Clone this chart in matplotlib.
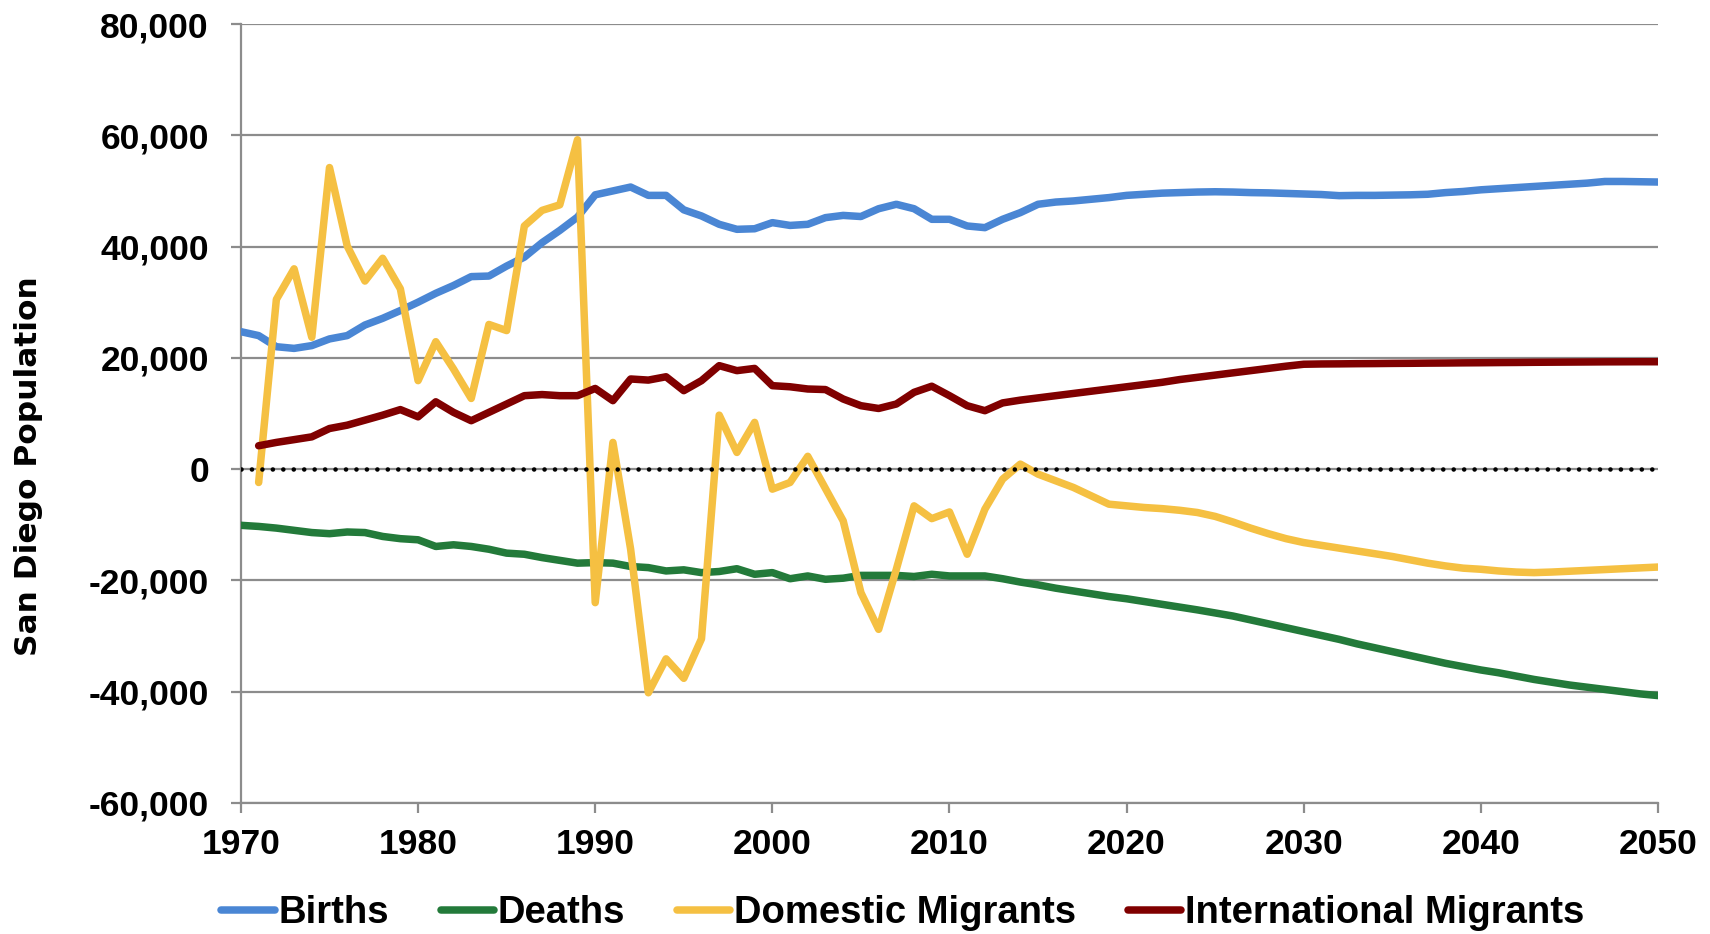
import matplotlib
matplotlib.use("Agg")
import matplotlib.pyplot as plt
from matplotlib.ticker import FuncFormatter, MultipleLocator

# yearly components of population change, San Diego region
years = list(range(1970, 2051))
years_mig = list(range(1971, 2051))

births = [
    24700, 24000, 22000, 21700, 22200, 23400, 24000, 25900, 27100, 28500,
    30000, 31600, 33000, 34600, 34700, 36500, 38100, 40700, 42900, 45300,
    49300, 50000, 50700, 49200, 49200, 46600, 45500, 44000, 43100, 43200,
    44300, 43800, 44000, 45200, 45600, 45400, 46800, 47600, 46800, 44900,
    44900, 43700, 43400, 44900, 46100, 47600, 48000, 48200, 48500, 48800,
    49200, 49400, 49600, 49700, 49800, 49850, 49800, 49700, 49650, 49550,
    49450, 49350, 49150, 49200, 49200, 49250, 49300, 49400, 49700, 49900,
    50200, 50400, 50600, 50800, 51000, 51200, 51400, 51700, 51700, 51650,
    51600,
]

deaths = [
    -10100, -10300, -10600, -11000, -11400, -11600, -11300, -11400, -12100, -12500,
    -12700, -13900, -13600, -13900, -14400, -15100, -15300, -15900, -16400, -16900,
    -16800, -16900, -17500, -17700, -18300, -18100, -18600, -18400, -17900, -18900,
    -18600, -19700, -19200, -19800, -19600, -19100, -19100, -19100, -19300, -18900,
    -19200, -19200, -19200, -19700, -20300, -20800, -21400, -21900, -22400, -22900,
    -23300, -23800, -24300, -24800, -25300, -25850, -26400, -27100, -27800, -28500,
    -29200, -29900, -30600, -31400, -32100, -32800, -33500, -34200, -34900, -35500,
    -36100, -36600, -37200, -37800, -38300, -38800, -39200, -39600, -40000, -40400,
    -40700,
]

domestic = [
    -2400, 30500, 36000, 23700, 54200, 40100, 33800, 37900, 32400,
    15900, 22900, 18000, 12700, 26000, 24900, 43700, 46500, 47500, 59200,
    -24000, 4800, -14400, -40200, -34100, -37600, -30500, 9700, 3000, 8400,
    -3600, -2400, 2300, -3500, -9300, -22200, -28800, -18000, -6600, -8900,
    -7700, -15300, -7200, -1800, 900, -900, -2100, -3300, -4800, -6300,
    -6600, -6900, -7100, -7400, -7800, -8500, -9500, -10600, -11600, -12500,
    -13200, -13700, -14200, -14700, -15200, -15700, -16300, -16900, -17400, -17800,
    -18000, -18300, -18500, -18600, -18500, -18350, -18200, -18050, -17900, -17750,
    -17600,
]

international = [
    4200, 4800, 5300, 5800, 7300, 7900, 8800, 9700, 10700,
    9400, 12100, 10200, 8700, 10200, 11700, 13200, 13400, 13200, 13200,
    14500, 12300, 16200, 16000, 16600, 14100, 15900, 18600, 17700, 18100,
    15000, 14800, 14400, 14300, 12600, 11400, 10900, 11700, 13800, 14900,
    13200, 11400, 10500, 11900, 12400, 12800, 13200, 13600, 14000, 14400,
    14800, 15200, 15600, 16100, 16500, 16900, 17300, 17700, 18100, 18500,
    18850, 18900, 18920, 18950, 18970, 19000, 19020, 19050, 19070, 19100,
    19120, 19150, 19170, 19200, 19220, 19240, 19260, 19280, 19290, 19300,
    19300,
]

series_names = ["Births", "Deaths", "Domestic Migrants", "International Migrants"]
series_colors = ["#4A86D4", "#237A3A", "#F5C042", "#800000"]

grey = "#8C8C8C"
tick_font = "Liberation Sans"

fig = plt.figure(figsize=(17.1, 9.34), dpi=100)
ax = fig.add_axes([0.1409, 0.1403, 0.8287, 0.834])

data = [(years, births), (years, deaths), (years_mig, domestic), (years_mig, international)]
for (xs, ys), name, col in zip(data, series_names, series_colors):
    ax.plot(xs, ys, color=col, lw=5.4, label=name,
            solid_capstyle="round", solid_joinstyle="round", zorder=3)

# dotted zero line on top of everything
ax.axhline(0, color="black", lw=3.3, linestyle=(0, (0.01, 2.27)),
           dash_capstyle="round", zorder=5)

ax.set_xlim(1970, 2050)
ax.set_ylim(-60000, 80000)
ax.xaxis.set_major_locator(MultipleLocator(10))
ax.yaxis.set_major_locator(MultipleLocator(20000))
ax.yaxis.set_major_formatter(FuncFormatter(lambda v, p: f"{int(v):,}"))

ax.grid(axis="y", color=grey, lw=1.6, zorder=0)
ax.set_axisbelow(True)
for side in ["top", "right"]:
    ax.spines[side].set_visible(False)
for side in ["left", "bottom"]:
    ax.spines[side].set_color(grey)
    ax.spines[side].set_linewidth(1.6)

ax.tick_params(axis="y", length=7, width=1.6, color=grey, pad=16)
ax.tick_params(axis="x", length=7, width=1.6, color=grey, pad=11)
for lab in ax.get_xticklabels() + ax.get_yticklabels():
    lab.set_fontfamily(tick_font)
    lab.set_fontweight("bold")
    lab.set_fontsize(25.5)

fig.text(0.0165, 0.501, "San Diego Population", rotation=90, ha="center", va="center",
         fontsize=22.5, fontweight="bold", family="DejaVu Sans")

fig.legend(loc="center", bbox_to_anchor=(0.528, 0.022), ncol=4, frameon=False,
           prop={"family": tick_font, "weight": "bold", "size": 27.5},
           handlelength=1.4, handletextpad=0.1, columnspacing=1.35,
           borderaxespad=0, borderpad=0)

fig.savefig("out.png", dpi=100, facecolor="white")
